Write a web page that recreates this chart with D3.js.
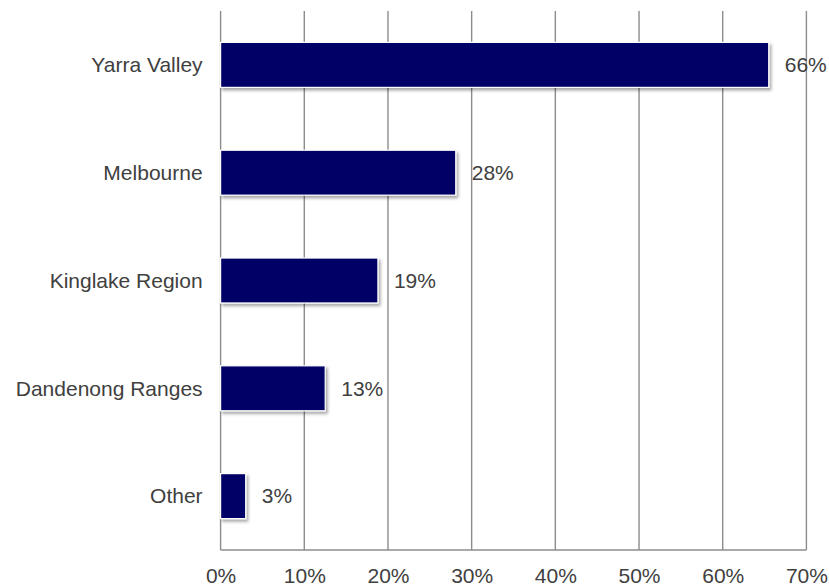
<!DOCTYPE html>
<html><head><meta charset="utf-8">
<script src="https://cdn.jsdelivr.net/npm/d3@7"></script>
<style>body{margin:0;background:#fff}svg{display:block}text{font-family:"Liberation Sans",Arial,sans-serif;fill:#404040}</style>
</head><body>
<svg id="c" width="829" height="587"></svg>
<script>
const categories = ["Yarra Valley","Melbourne","Kinglake Region","Dandenong Ranges","Other"];
const values = [65.5, 28.1, 18.8, 12.5, 3.0];
const valueLabels = ["66%","28%","19%","13%","3%"];
const tickValues = [0,10,20,30,40,50,60,70];
const tickLabels = ["0%","10%","20%","30%","40%","50%","60%","70%"];

(function(){
const svg = d3.select("#c");
const mLeft = 220.6, mRight = 806.4, mTop = 11, mBottom = 550;
const x = d3.scaleLinear().domain([0,70]).range([mLeft,mRight]);
const y = d3.scaleBand().domain(categories).range([mTop,mBottom]).paddingInner(0.583).paddingOuter(0.2915);

const defs = svg.append("defs");
const f = defs.append("filter").attr("id","sh").attr("x","-10%").attr("y","-20%").attr("width","130%").attr("height","160%");
f.append("feDropShadow").attr("dx",2).attr("dy",2.5).attr("stdDeviation",1.5).attr("flood-color","#000").attr("flood-opacity",0.35);

// gridlines
svg.append("g").selectAll("line").data(tickValues).join("line")
  .attr("x1",d=>x(d)).attr("x2",d=>x(d)).attr("y1",mTop).attr("y2",mBottom)
  .attr("stroke","#8c8c8c").attr("stroke-width",1.4);
// x axis baseline
svg.append("line").attr("x1",mLeft).attr("x2",mRight).attr("y1",mBottom).attr("y2",mBottom)
  .attr("stroke","#8c8c8c").attr("stroke-width",1.4);

// tick labels via axis
const ax = svg.append("g").attr("transform",`translate(0,${mBottom})`)
  .call(d3.axisBottom(x).tickValues(tickValues).tickFormat((d,i)=>tickLabels[i]).tickSize(0).tickPadding(18));
ax.select(".domain").remove();
ax.selectAll("text").style("font-size","21px").style("font-family",'"Liberation Sans",Arial,sans-serif').attr("fill","#404040").attr("dy","0.71em");

// bars
svg.append("g").selectAll("rect").data(values).join("rect")
  .attr("x",x(0)).attr("y",(d,i)=>y(categories[i]))
  .attr("width",d=>x(d)-x(0)).attr("height",y.bandwidth())
  .attr("fill","#000066").attr("stroke","#fff").attr("stroke-width",1.2)
  .attr("filter","url(#sh)");

// category labels
svg.append("g").selectAll("text").data(categories).join("text")
  .attr("x",mLeft-18).attr("y",d=>y(d)+y.bandwidth()/2).attr("dy","0.35em")
  .attr("text-anchor","end").style("font-size","21px").text(d=>d);

// value labels
svg.append("g").selectAll("text").data(values).join("text")
  .attr("x",d=>x(d)+16).attr("y",(d,i)=>y(categories[i])+y.bandwidth()/2).attr("dy","0.35em")
  .style("font-size","21px").text((d,i)=>valueLabels[i]);
})();
</script>
</body></html>
